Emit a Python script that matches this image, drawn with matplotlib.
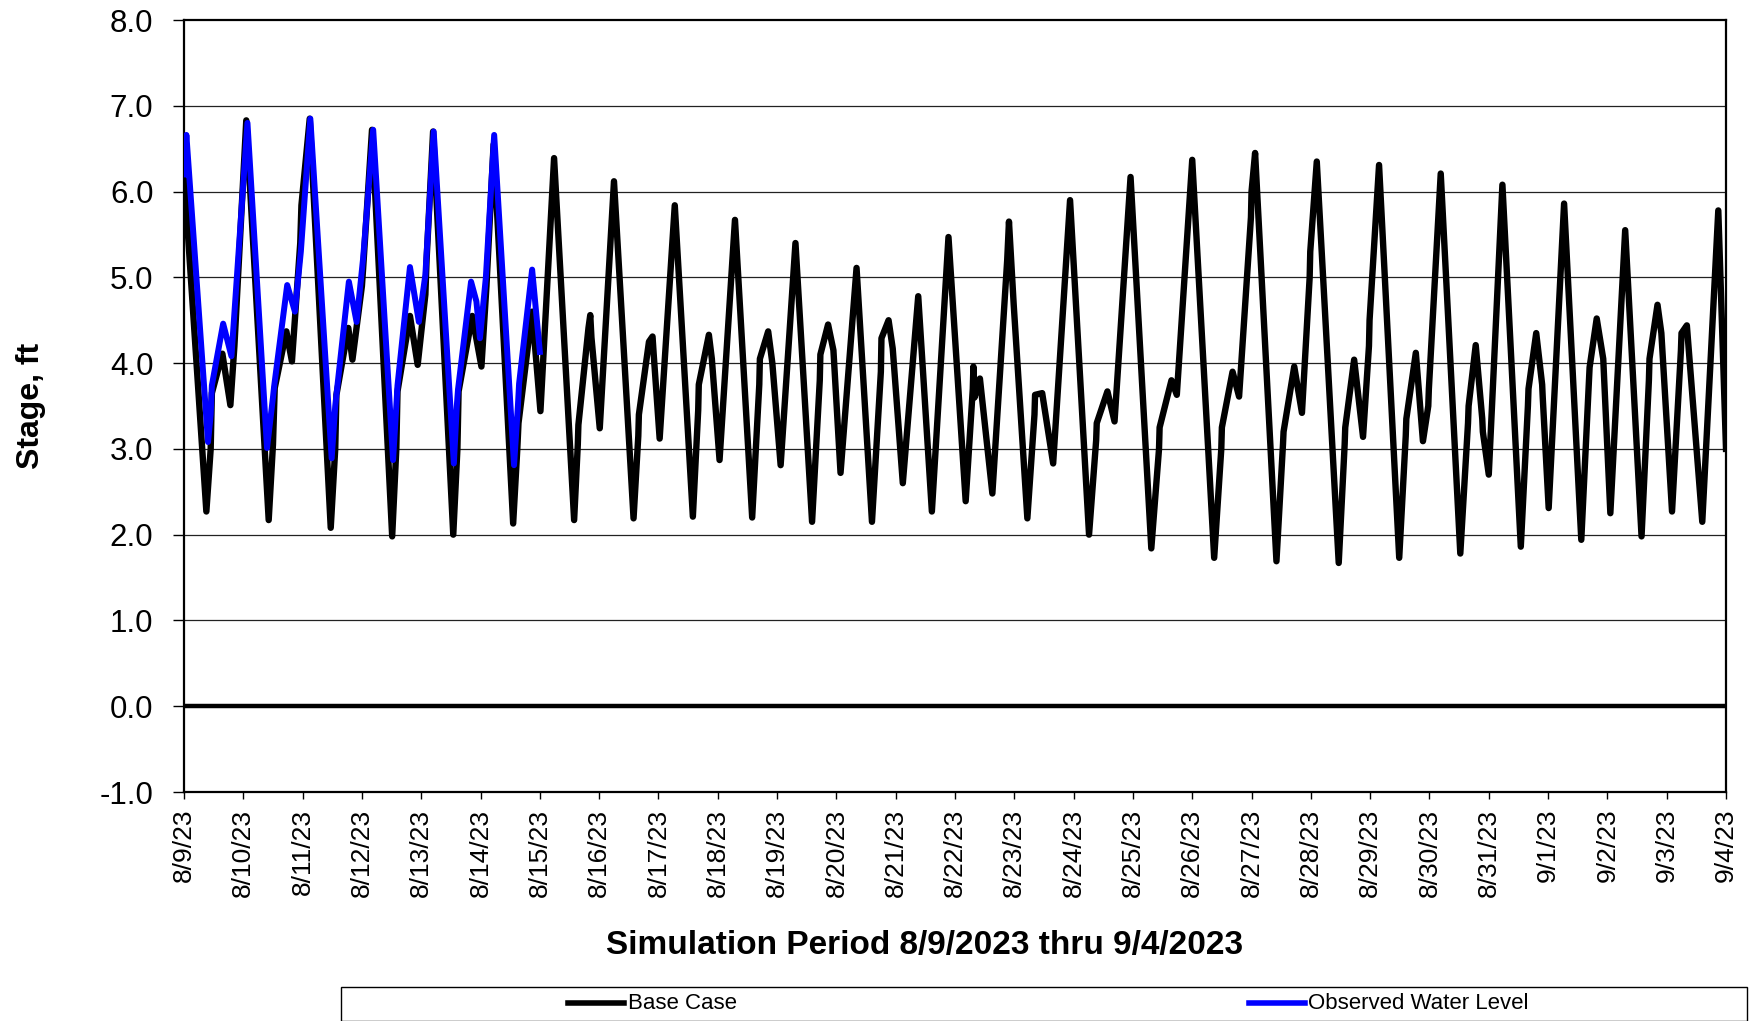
import datetime as dt
import matplotlib
matplotlib.use("Agg")
import matplotlib.pyplot as plt
import matplotlib.dates as mdates
from matplotlib.lines import Line2D
from matplotlib.patches import Rectangle

plt.rcParams['font.family'] = ['Liberation Sans', 'DejaVu Sans']

start = dt.datetime(2023, 8, 9)

# Base Case: elapsed days since 8/9/23 00:00 and stage (ft)
base_days = [
    0.00, 0.377, 0.45, 0.47, 0.647, 0.782, 0.85, 1.05, 1.428, 1.50, 1.53, 1.726, 1.82, 1.96, 1.98, 2.12,
    2.474, 2.55, 2.57, 2.77, 2.84, 3.00, 3.02, 3.17, 3.51, 3.58, 3.60, 3.81, 3.94, 4.07, 4.09, 4.20,
    4.54, 4.61, 4.63, 4.86, 5.015, 5.10, 5.22, 5.55, 5.62, 5.64, 5.87, 6.01, 6.24,
    6.578, 6.64, 6.65, 6.82, 6.85, 6.87, 7.01, 7.25, 7.58, 7.66, 7.67, 7.84, 7.90, 7.92, 8.02, 8.275,
    8.58, 8.67, 8.68, 8.85, 8.90, 9.03, 9.29, 9.58, 9.70, 9.71, 9.85, 9.92, 10.06, 10.31,
    10.59, 10.72, 10.73, 10.86, 10.95, 11.07, 11.34, 11.60, 11.75, 11.76, 11.88, 11.95, 12.12, 12.38,
    12.61, 12.89, 13.18, 13.30, 13.31, 13.33, 13.42, 13.63, 13.88, 13.91, 13.99,
    14.22, 14.34, 14.35, 14.47, 14.655, 14.94, 15.26, 15.38, 15.39, 15.57, 15.69, 15.96,
    16.31, 16.44, 16.45, 16.65, 16.74, 17.00, 17.37, 17.49, 17.50, 17.68, 17.79, 17.99, 18.00, 18.06,
    18.42, 18.53, 18.54, 18.72, 18.85, 18.98, 18.99, 19.10, 19.47, 19.57, 19.58, 19.73, 19.88, 19.98, 19.99, 20.15,
    20.49, 20.60, 20.61, 20.77, 20.89, 20.98, 20.99, 21.19, 21.52, 21.65, 21.66, 21.78, 21.89, 21.90, 22.00, 22.23,
    22.54, 22.66, 22.67, 22.80, 22.90, 22.91, 23.01, 23.27, 23.56, 23.69, 23.70, 23.82, 23.93, 24.05, 24.30,
    24.576, 24.70, 24.71, 24.845, 24.91, 25.09, 25.24, 25.25, 25.34, 25.60, 25.87, 26.00,
]
base_stage = [
    6.20, 2.27, 3.00, 3.65, 4.11, 3.51, 4.20, 6.83, 2.17, 3.05, 3.71, 4.37, 4.02, 5.40, 5.84, 6.85,
    2.08, 3.00, 3.63, 4.41, 4.04, 4.90, 5.10, 6.72, 1.98, 3.00, 3.67, 4.55, 3.98, 4.80, 5.20, 6.70,
    2.00, 3.00, 3.67, 4.55, 3.96, 4.90, 6.55, 2.13, 3.00, 3.30, 4.60, 3.44, 6.39,
    2.17, 3.05, 3.28, 4.41, 4.56, 4.30, 3.24, 6.12, 2.19, 3.15, 3.40, 4.25, 4.31, 4.10, 3.12, 5.84,
    2.21, 3.45, 3.75, 4.33, 4.05, 2.87, 5.67, 2.20, 3.75, 4.05, 4.37, 4.00, 2.81, 5.40,
    2.15, 3.80, 4.10, 4.45, 4.15, 2.72, 5.11, 2.15, 3.90, 4.29, 4.50, 4.17, 2.60, 4.78,
    2.27, 5.47, 2.39, 3.70, 3.96, 3.60, 3.82, 2.48, 5.20, 5.65, 4.68,
    2.19, 3.40, 3.63, 3.65, 2.83, 5.90, 2.00, 3.10, 3.30, 3.67, 3.32, 6.17,
    1.84, 3.00, 3.25, 3.80, 3.63, 6.37, 1.73, 3.00, 3.25, 3.90, 3.61, 5.70, 6.00, 6.45,
    1.69, 3.05, 3.20, 3.96, 3.42, 5.00, 5.30, 6.35, 1.67, 3.05, 3.25, 4.04, 3.14, 4.20, 4.50, 6.31,
    1.73, 3.15, 3.35, 4.12, 3.09, 3.50, 3.70, 6.21, 1.78, 3.30, 3.50, 4.21, 3.35, 3.20, 2.70, 6.08,
    1.86, 3.50, 3.70, 4.35, 3.75, 3.60, 2.31, 5.86, 1.94, 3.80, 3.95, 4.52, 4.05, 2.25, 5.55,
    1.98, 3.80, 4.05, 4.68, 4.35, 2.27, 4.15, 4.35, 4.44, 2.15, 5.78, 3.00,
]

# Observed Water Level
obs_days = [
    0.00, 0.04, 0.405, 0.45, 0.47, 0.66, 0.80, 1.07, 1.40, 1.50, 1.52, 1.74, 1.87, 1.97, 2.13,
    2.49, 2.55, 2.57, 2.78, 2.91, 3.02, 3.19, 3.525, 3.58, 3.60, 3.81, 3.96, 4.07, 4.21,
    4.55, 4.60, 4.62, 4.84, 4.93, 4.99, 5.09, 5.23, 5.565, 5.63, 5.65, 5.87, 6.00,
]
obs_stage = [
    6.20, 6.66, 3.08, 3.40, 3.74, 4.46, 4.08, 6.80, 3.01, 3.60, 3.73, 4.91, 4.60, 5.30, 6.85,
    2.89, 3.50, 3.63, 4.95, 4.48, 5.22, 6.72, 2.87, 3.50, 3.74, 5.12, 4.48, 5.03, 6.70,
    2.83, 3.50, 3.69, 4.95, 4.72, 4.29, 5.00, 6.66, 2.81, 3.50, 3.76, 5.09, 4.13,
]

yticks = [-1.0, 0.0, 1.0, 2.0, 3.0, 4.0, 5.0, 6.0, 7.0, 8.0]
n_days = 26

W, H = 1755, 1021
fig = plt.figure(figsize=(W / 100, H / 100), dpi=100)
ax = fig.add_axes([184 / W, 1 - 792 / H, (1726 - 184) / W, (792 - 20) / H])

t0 = mdates.date2num(start)
bx = [t0 + d for d in base_days]
ox = [t0 + d for d in obs_days]

for y in yticks[1:-1]:
    if y == 0.0:
        continue
    ax.axhline(y, color='#222222', lw=0.9, zorder=1)
ax.axhline(0.0, color='black', lw=3.2, zorder=2)

ax.plot(bx, base_stage, color='black', lw=4.6, solid_joinstyle='round', zorder=3)
ax.plot(ox, obs_stage, color='#0000FF', lw=4.3, solid_joinstyle='round', zorder=4)

ax.set_ylim(-1.0, 8.0)
ax.set_yticks(yticks)
ax.set_yticklabels([f"{v:.1f}" for v in yticks], fontsize=22.5)
ax.set_xlim(t0, t0 + n_days)
xt = [t0 + i for i in range(n_days + 1)]
ax.set_xticks(xt)
labels = []
for i in range(n_days + 1):
    d = start + dt.timedelta(days=i)
    labels.append(f"{d.month}/{d.day}/{d.strftime('%y')}")
ax.set_xticklabels(labels, rotation=90, fontsize=19)
ax.tick_params(axis='y', direction='out', length=8, width=1, pad=14)
ax.tick_params(axis='x', direction='out', length=5, width=1, pad=7)
for s in ax.spines.values():
    s.set_linewidth(1.6)
    s.set_color('black')

fig.text(31 / W, 1 - 406 / H, "Stage, ft", rotation=90, ha='center', va='center',
         fontsize=23, fontweight='bold')
fig.text(925 / W, 1 - 945 / H, "Simulation Period 8/9/2023 thru 9/4/2023", ha='center',
         va='center', fontsize=24, fontweight='bold')

# legend box
fig.add_artist(Rectangle((341 / W, 0.5 / H), (1747 - 341) / W, (1021 - 987) / H,
                         transform=fig.transFigure, fill=False, edgecolor='black', lw=1.0))
ly = 1 - 1003 / H
fig.add_artist(Line2D([568 / W, 624 / W], [ly, ly], color='black', lw=4.0, transform=fig.transFigure))
fig.text(628 / W, ly, "Base Case", ha='left', va='center', fontsize=16)
fig.add_artist(Line2D([1249 / W, 1305 / W], [ly, ly], color='#0000FF', lw=4.0, transform=fig.transFigure))
fig.text(1308 / W, ly, "Observed Water Level", ha='left', va='center', fontsize=16)

fig.savefig("out.png", dpi=100)
